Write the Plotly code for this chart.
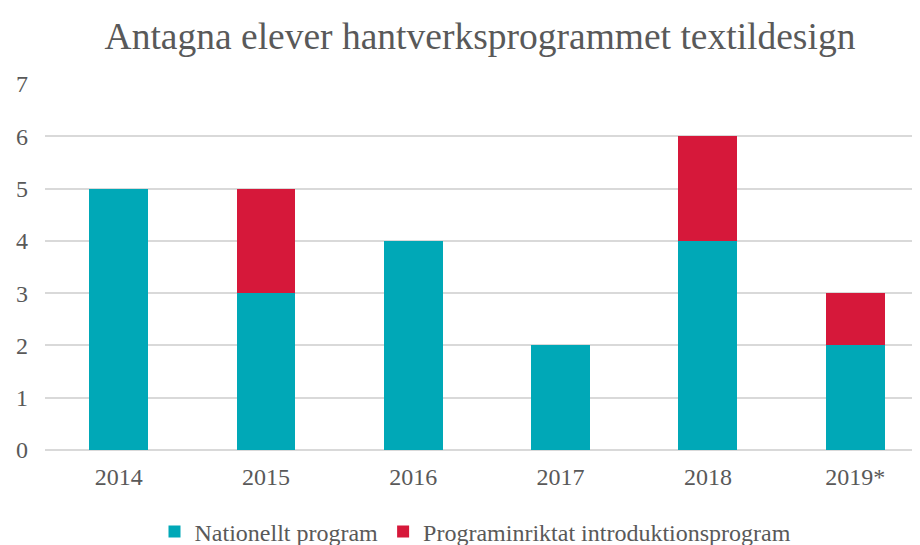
import plotly.graph_objects as go

years = ["2014", "2015", "2016", "2017", "2018", "2019*"]
nationellt = [5, 3, 4, 2, 4, 2]
introduktion = [0, 2, 0, 0, 2, 1]
y_ticks = [0, 1, 2, 3, 4, 5, 6, 7]

fig = go.Figure()
fig.add_trace(go.Bar(x=years, y=nationellt, name="Nationellt program",
                     marker=dict(color="#00A8B7", line=dict(width=0)), width=0.4))
fig.add_trace(go.Bar(x=years, y=introduktion, name="Programinriktat introduktionsprogram",
                     marker=dict(color="#D6183A", line=dict(width=0)), width=0.4))

# page has an 8px body margin; figure is sized so it ends at the window edge
W, H = 912, 537
fig.update_layout(
    barmode="stack",
    width=W, height=H,
    margin=dict(l=37, r=0, t=76, b=95, autoexpand=False),
    paper_bgcolor="white", plot_bgcolor="white",
    font=dict(family="Liberation Serif, Times New Roman, serif", color="#595959", size=24),
    title=dict(text="Antagna elever hantverksprogrammet textildesign",
               x=472 / W, xanchor="center", y=1 - 28 / H, yanchor="middle", yref="container",
               font=dict(size=37.5, color="#595959")),
    xaxis=dict(range=[-0.5, 5.44], showgrid=False, showline=False, ticks="",
               tickfont=dict(size=24, color="#595959"), ticklabelstandoff=10),
    yaxis=dict(range=[0, 7], tickvals=y_ticks, showgrid=True, gridcolor="#D9D9D9", gridwidth=1.5,
               zeroline=True, zerolinecolor="#D9D9D9", zerolinewidth=1.5,
               tickfont=dict(size=24, color="#595959"), ticklabelstandoff=16, ticks=""),
    legend=dict(orientation="h", x=0.492, xanchor="center", y=-(524 - 442) / 366, yanchor="middle",
                font=dict(size=24, color="#595959"), traceorder="normal",
                itemwidth=30),
    showlegend=True,
)

fig.write_html("out.html")
